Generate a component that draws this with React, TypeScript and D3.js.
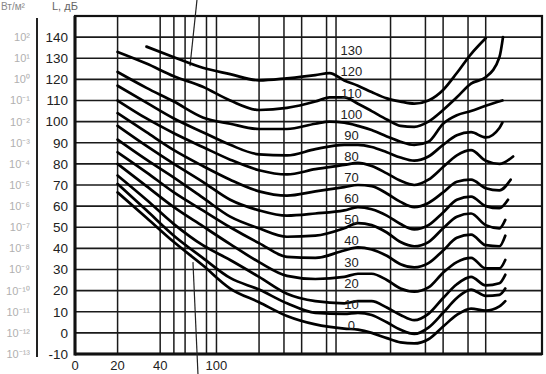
import React, { useEffect, useRef } from "react";
import * as d3 from "d3";

// equal-loudness contours, [frequency Hz, level dB]
const phon0 = [[20,66.5],[32,54.5],[50,43],[80,32],[125,21],[200,14.5],[315,8],[500,4],[800,2],[1000,1.5],[1250,0],[1600,-2.5],[2000,-4.5],[2500,-5],[3150,-3],[4000,3],[5000,8.5],[6300,11.5],[8000,10.5],[10000,12.5],[11000,15]];
const phon10 = [[20,70.5],[32,58],[50,46],[80,35.5],[125,26],[200,20.5],[315,14],[500,9.5],[800,9],[1000,9.5],[1250,8.5],[1600,5],[2000,1.5],[2500,-0.5],[3150,2.5],[4000,9.5],[5000,16.5],[6300,20.5],[8000,17.5],[10000,18],[11000,21]];
const phon20 = [[20,74.5],[32,63],[50,51.5],[80,41.5],[125,34.5],[200,26.5],[315,18.5],[500,15],[800,14],[1000,15],[1250,15],[1600,12],[2000,8.5],[2500,6],[3150,9],[4000,16.5],[5000,23],[6300,26.5],[8000,22.5],[10000,23.5],[11000,27.5]];
const phon30 = [[20,80],[32,69.5],[50,59.5],[80,50.5],[125,42],[200,33.5],[315,27],[500,25.5],[800,26.5],[1000,28],[1250,28],[1600,25],[2000,21],[2500,19.5],[3150,21.5],[4000,28.5],[5000,33.5],[6300,35.5],[8000,30.5],[10000,30.5],[11000,34.5]];
const phon40 = [[20,85.5],[32,76],[50,66.5],[80,58],[125,50],[200,42.5],[315,36],[500,35.5],[800,39],[1000,40.5],[1250,39.5],[1600,36.5],[2000,32.5],[2500,31],[3150,33],[4000,39],[5000,45],[6300,46.5],[8000,41.5],[10000,41],[11000,46]];
const phon50 = [[20,91.5],[32,82],[50,73.5],[80,64],[125,55],[200,49.5],[315,45.5],[500,46],[800,49.5],[1000,52],[1250,51],[1600,47.5],[2000,43],[2500,41],[3150,43],[4000,49.5],[5000,55],[6300,56.5],[8000,51],[10000,49.5],[11000,53.5]];
const phon60 = [[20,98],[32,88.5],[50,80],[80,71.5],[125,63],[200,58],[315,55.5],[500,56.5],[800,58],[1000,59.5],[1250,58.5],[1600,55.5],[2000,51.5],[2500,49],[3150,51],[4000,57],[5000,63],[6300,64.5],[8000,60],[10000,59],[11500,63]];
const phon70 = [[20,104],[32,95],[50,86.5],[80,79],[125,72.5],[200,67],[315,65],[500,67],[800,69],[1000,70],[1250,69.5],[1600,66],[2000,62],[2500,59.5],[3150,61.5],[4000,66.5],[5000,71.5],[6300,72.5],[8000,68.5],[10000,67.5],[12000,72.5]];
const phon80 = [[20,110],[32,101.5],[50,94.5],[80,88],[125,82],[200,77],[315,75],[500,77.5],[800,79.5],[1000,80.5],[1250,79],[1600,75.5],[2000,72],[2500,70],[3150,72.5],[4000,78.5],[5000,84],[6300,86.5],[8000,81.5],[10000,80],[12500,83.5]];
const phon90 = [[20,117],[32,109],[50,101.5],[80,95],[125,89],[200,84.5],[315,84],[500,87],[800,89],[1000,89],[1250,88],[1600,85.5],[2000,83],[2500,81.5],[3150,83.5],[4000,89],[5000,93.5],[6300,95],[8000,92.5],[10000,97],[10500,99.5]];
const phon100 = [[20,123.5],[32,116],[50,109.5],[80,102],[125,99],[200,96.5],[315,96.5],[500,99],[630,100],[800,99.5],[1000,98],[1250,96],[1600,93],[2000,90.5],[2500,89],[3150,90.5],[4000,99],[5000,103],[6300,105],[8000,107.5],[10500,110]];
const phon110 = [[20,133],[32,127.5],[50,121.5],[80,116.5],[125,110],[200,105.5],[315,106.5],[500,109.5],[630,111.5],[800,111.5],[1000,108.5],[1250,105],[1600,101],[2000,98],[2500,97.5],[3150,100],[4000,105.5],[5000,111.5],[6300,118],[8000,121],[10000,130.5],[10600,140]];
const phon120 = [[32,135.5],[50,130.5],[80,125.5],[125,122.5],[200,119.5],[315,120.5],[500,122],[630,123],[800,119.5],[1000,117],[1250,114],[1600,111],[2000,109.5],[2500,108.5],[3150,110],[4000,115],[5000,123],[6300,132],[8000,139.5]];

const curves = [phon0, phon10, phon20, phon30, phon40, phon50, phon60, phon70, phon80, phon90, phon100, phon110, phon120];
const phonLabels = [0, 10, 20, 30, 40, 50, 60, 70, 80, 90, 100, 110, 120, 130];

const yTicks = [-10, 0, 10, 20, 30, 40, 50, 60, 70, 80, 90, 100, 110, 120, 130, 140];
const intensityLabels = ["10⁻¹³", "10⁻¹²", "10⁻¹¹", "10⁻¹⁰", "10⁻⁹", "10⁻⁸", "10⁻⁷", "10⁻⁶", "10⁻⁵", "10⁻⁴", "10⁻³", "10⁻²", "10⁻¹", "10⁰", "10¹", "10²"];
const xTicks = [10, 20, 40, 100];
const xTickLabels = ["0", "20", "40", "100"];
const freqGrid = [20, 40, 50, 60, 85, 100, 200, 300, 400, 600, 700, 1700, 3000, 4000, 6000, 8000];
const levelGrid = [0, 10, 20, 30, 40, 50, 60, 70, 80, 90, 100, 110, 120, 130, 140];

// stray pen strokes on the scan
const strokeTop = [[72.8, 157.6], [65, 126.3]];
const strokeBottom = [[68.2, 33.5], [74, -19.5]];

export default function App() {
    const ref = useRef(null);

    useEffect(() => {
        const svg = d3.select(ref.current);
        svg.selectAll("*").remove();

        const x = d3.scaleLog().domain([10, 20000]).range([75, 542]);
        const y = d3.scaleLinear().domain([-10, 150]).range([354, 16]);
        const font = "'Liberation Sans', Arial, sans-serif";

        svg.append("rect").attr("width", 546).attr("height", 374).attr("fill", "#fff");

        // grid
        svg.append("g").selectAll("line").data(levelGrid).join("line")
            .attr("x1", x(10)).attr("x2", x(20000))
            .attr("y1", d => y(d)).attr("y2", d => y(d))
            .attr("stroke", "#1a1a1a").attr("stroke-width", 1.6);
        svg.append("g").selectAll("line").data(freqGrid).join("line")
            .attr("x1", d => x(d)).attr("x2", d => x(d))
            .attr("y1", y(150)).attr("y2", y(-10))
            .attr("stroke", "#1a1a1a").attr("stroke-width", 1.5);

        // frame
        svg.append("rect")
            .attr("x", x(10)).attr("y", y(150))
            .attr("width", x(20000) - x(10)).attr("height", y(-10) - y(150))
            .attr("fill", "none").attr("stroke", "#111").attr("stroke-width", 2.2);
        svg.append("line").attr("x1", x(10)).attr("x2", x(10)).attr("y1", y(150)).attr("y2", y(-10) + 1.5)
            .attr("stroke", "#111").attr("stroke-width", 3);
        svg.append("line").attr("x1", x(10)).attr("x2", x(20000)).attr("y1", y(-10)).attr("y2", y(-10))
            .attr("stroke", "#111").attr("stroke-width", 3);

        // divider between the two scales
        svg.append("line").attr("x1", 37).attr("x2", 37).attr("y1", y(150) + 2).attr("y2", y(-10) + 3)
            .attr("stroke", "#222").attr("stroke-width", 2);

        // stray strokes
        const seg = d3.line().x((d: any) => x(d[0])).y((d: any) => y(d[1]));
        [strokeTop, strokeBottom].forEach(s => {
            svg.append("path").attr("d", seg(s as any)).attr("fill", "none")
                .attr("stroke", "#222").attr("stroke-width", 1.2);
        });

        // contours
        const line = d3.line()
            .x((d: any) => x(d[0]))
            .y((d: any) => y(d[1]))
            .curve(d3.curveMonotoneX);
        svg.append("g").selectAll("path").data(curves).join("path")
            .attr("d", (d: any) => line(d))
            .attr("fill", "none").attr("stroke", "#000")
            .attr("stroke-width", 2.7).attr("stroke-linecap", "round");

        // phon labels
        svg.append("g").selectAll("text").data(phonLabels).join("text")
            .attr("x", x(900)).attr("y", d => y(d) - 3)
            .attr("text-anchor", "middle")
            .attr("font-family", font).attr("font-size", 13).attr("fill", "#222")
            .text(d => d);

        // dB axis
        svg.append("g").selectAll("text").data(yTicks).join("text")
            .attr("x", 68).attr("y", d => y(d)).attr("dy", "0.36em")
            .attr("text-anchor", "end")
            .attr("font-family", font).attr("font-size", 13.5).attr("fill", "#222")
            .text(d => d);

        // intensity column
        svg.append("g").selectAll("text").data(yTicks).join("text")
            .attr("x", 30).attr("y", d => y(d)).attr("dy", "0.36em")
            .attr("text-anchor", "end")
            .attr("font-family", font).attr("font-size", 11).attr("fill", "#b0b0b0")
            .text((d, i) => intensityLabels[i]);

        // x labels
        svg.append("g").selectAll("text").data(xTicks).join("text")
            .attr("x", d => x(d)).attr("y", 370)
            .attr("text-anchor", "middle")
            .attr("font-family", font).attr("font-size", 13).attr("fill", "#222")
            .text((d, i) => xTickLabels[i]);

        // headers
        svg.append("text").attr("x", 1).attr("y", 10)
            .attr("font-family", font).attr("font-size", 10).attr("fill", "#888")
            .text("Вт/м²");
        svg.append("text").attr("x", 52).attr("y", 10)
            .attr("font-family", font).attr("font-size", 11).attr("fill", "#666")
            .text("L, дБ");
    }, []);

    return <svg ref={ref} width={546} height={374}
        style={{ position: "absolute", left: 0, top: 0, display: "block" }} />;
}
